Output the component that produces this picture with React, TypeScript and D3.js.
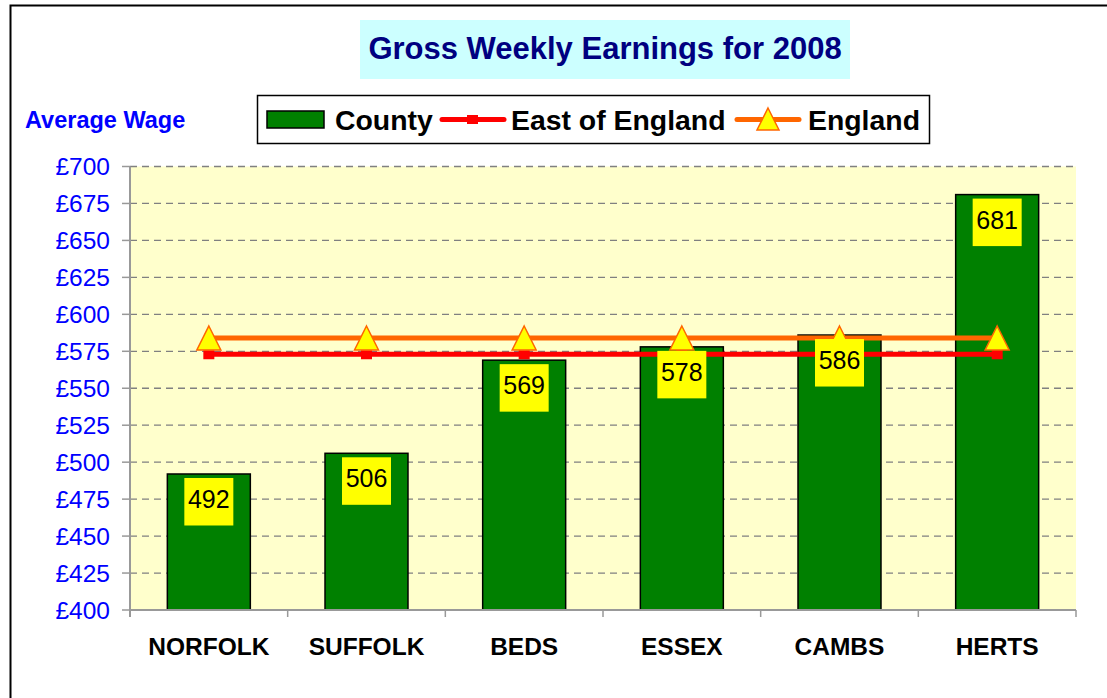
import React from "react";
import * as d3 from "d3";

const counties = ["NORFOLK", "SUFFOLK", "BEDS", "ESSEX", "CAMBS", "HERTS"];
const countyWage = [492, 506, 569, 578, 586, 681];
const eastOfEngland = [573, 573, 573, 573, 573, 573];
const england = [584, 584, 584, 584, 584, 584];
const yTicks = [400, 425, 450, 475, 500, 525, 550, 575, 600, 625, 650, 675, 700];

const W = 1107;
const H = 698;
const FONT = "'Liberation Sans', Arial, Helvetica, sans-serif";

export default function App() {
  const left = 130, right = 1076, top = 166.5, bottom = 610;
  const x = d3.scaleBand<string>().domain(counties).range([left, right]).paddingInner(0).paddingOuter(0);
  const y = d3.scaleLinear().domain([400, 700]).range([bottom, top]);
  const bw = x.bandwidth() / 1.9;
  const cx = (c: string) => (x(c) as number) + x.bandwidth() / 2;

  const line = d3.line<number>().x((_, i) => cx(counties[i])).y((v) => y(v));

  const tri = (px: number, py: number, s = 12) =>
    `M${px},${py - s} L${px + s},${py + s} L${px - s},${py + s} Z`;

  return (
    <svg width={W} height={H} style={{ position: "absolute", left: 0, top: 0, display: "block", background: "#fff" }} fontFamily={FONT}>
      {/* outer border */}
      <rect x={10.5} y={5.5} width={1300} height={900} fill="none" stroke="#000" strokeWidth={2} />

      {/* title */}
      <rect x={360} y={20} width={490} height={59} fill="#CCFFFF" />
      <text x={605} y={59} textAnchor="middle" fontSize={31} fontWeight="bold" fill="#000080">
        Gross Weekly Earnings for 2008
      </text>

      {/* y axis title */}
      <text x={25} y={128} fontSize={23.5} fontWeight="bold" fill="#0000FF">Average Wage</text>

      {/* legend */}
      <rect x={257.5} y={95.5} width={672} height={48} fill="#fff" stroke="#000" strokeWidth={1.5} />
      <rect x={267} y={111} width={57} height={17} fill="#008000" stroke="#000" strokeWidth={1.5} />
      <text x={335} y={130} fontSize={28.4} fontWeight="bold" fill="#000">County</text>
      <line x1={442} x2={504} y1={119.5} y2={119.5} stroke="#FF0000" strokeWidth={5} strokeLinecap="round" />
      <rect x={467} y={115} width={11} height={9} fill="#FF0000" />
      <text x={511} y={130} fontSize={28.4} fontWeight="bold" fill="#000">East of England</text>
      <line x1={737} x2={799} y1={119.5} y2={119.5} stroke="#FF6600" strokeWidth={5} strokeLinecap="round" />
      <path d={tri(768, 119, 11)} fill="#FFFF00" stroke="#FF6600" strokeWidth={1.5} />
      <text x={808} y={130} fontSize={28.4} fontWeight="bold" fill="#000">England</text>

      {/* plot area */}
      <rect x={left} y={top} width={right - left} height={bottom - top} fill="#FFFFCC" />
      {yTicks.filter((t) => t > 400).map((t) => (
        <line key={t} x1={left} x2={right} y1={y(t)} y2={y(t)} stroke="#808080" strokeWidth={1.3} strokeDasharray="7,5" />
      ))}

      {/* bars */}
      {counties.map((c, i) => (
        <rect key={c} x={cx(c) - bw / 2} y={y(countyWage[i])} width={bw} height={bottom - y(countyWage[i])}
          fill="#008000" stroke="#000" strokeWidth={1.5} />
      ))}

      {/* axes */}
      <line x1={left} x2={left} y1={top} y2={bottom + 7} stroke="#999" strokeWidth={2} />
      <line x1={left} x2={right} y1={bottom} y2={bottom} stroke="#999" strokeWidth={2} />
      {yTicks.map((t) => (
        <g key={t}>
          <line x1={left - 8} x2={left} y1={y(t)} y2={y(t)} stroke="#999" strokeWidth={1.5} />
          <text x={110} y={y(t)} dy="0.36em" textAnchor="end" fontSize={24.5} fill="#0000FF">£{t}</text>
        </g>
      ))}
      {[...counties.map((c) => x(c) as number), right].map((bx, i) => (
        <line key={i} x1={bx} x2={bx} y1={bottom} y2={bottom + 7} stroke="#999" strokeWidth={1.5} />
      ))}
      {counties.map((c) => (
        <text key={c} x={cx(c)} y={655} textAnchor="middle" fontSize={24.5} fontWeight="bold" fill="#000">{c}</text>
      ))}

      {/* lines */}
      <path d={line(eastOfEngland) || ""} fill="none" stroke="#FF0000" strokeWidth={5} />
      {eastOfEngland.map((v, i) => (
        <rect key={i} x={cx(counties[i]) - 5.5} y={y(v) - 4} width={11} height={9} fill="#FF0000" />
      ))}
      <path d={line(england) || ""} fill="none" stroke="#FF6600" strokeWidth={5} />
      {england.map((v, i) => (
        <path key={i} d={tri(cx(counties[i]), y(v), 12)} fill="#FFFF00" stroke="#FF6600" strokeWidth={1.5} />
      ))}

      {/* data labels */}
      {counties.map((c, i) => {
        const by = y(countyWage[i]) + 4;
        return (
          <g key={c}>
            <rect x={cx(c) - 24.5} y={by} width={49} height={47.5} fill="#FFFF00" />
            <text x={cx(c)} y={by + 30} textAnchor="middle" fontSize={25} fill="#000">{countyWage[i]}</text>
          </g>
        );
      })}
    </svg>
  );
}
